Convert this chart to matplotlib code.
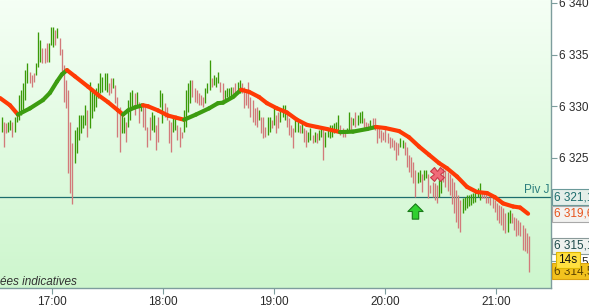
import numpy as np
import matplotlib
matplotlib.use("Agg")
import matplotlib.pyplot as plt
from matplotlib.collections import LineCollection
from matplotlib.colors import LinearSegmentedColormap
from matplotlib.path import Path
from matplotlib.transforms import blended_transform_factory

plt.rcParams['font.family'] = ['Liberation Sans', 'DejaVu Sans']

# x axis is minutes after 16:00
first_bar = 32.82
bar_step = 1.1586

highs = [
    6329.0, 6328.5, 6328.4, 6328.5, 6328.7, 6328.5, 6329.0, 6329.4, 6331.1, 6331.6,
    6332.3, 6333.5, 6334.2, 6333.3, 6333.0, 6333.2, 6334.2, 6337.2, 6336.4, 6335.6,
    6335.6, 6336.1, 6336.1, 6337.7, 6337.7, 6337.4, 6337.6, 6336.6, 6335.5, 6334.0,
    6332.5, 6331.6, 6328.5, 6326.4, 6327.7, 6328.0, 6329.2, 6329.2, 6329.2, 6330.1,
    6329.6, 6332.4, 6331.8, 6331.6, 6331.8, 6332.3, 6333.2, 6332.8, 6333.2, 6333.2,
    6332.3, 6332.7, 6332.7, 6332.1, 6330.9, 6329.9, 6329.4, 6329.0, 6328.5, 6330.6,
    6331.4, 6331.6, 6331.3, 6331.4, 6330.4, 6330.3, 6330.1, 6329.9, 6328.0, 6329.0,
    6329.4, 6329.2, 6328.2, 6329.0, 6331.6, 6331.3, 6330.3, 6329.9, 6328.7, 6328.5,
    6329.2, 6329.0, 6328.2, 6328.0, 6327.5, 6329.6, 6331.6, 6332.3, 6332.5, 6332.5,
    6331.8, 6331.6, 6331.3, 6331.1, 6330.9, 6331.8, 6332.3, 6334.5, 6332.7, 6333.0,
    6332.8, 6333.3, 6332.4, 6332.3, 6331.6, 6331.8, 6331.8, 6331.9, 6331.9, 6332.3,
    6332.4, 6332.5, 6332.3, 6331.9, 6331.6, 6332.4, 6330.9, 6330.6, 6329.8, 6329.9,
    6329.6, 6329.0, 6329.0, 6328.0, 6329.0, 6329.0, 6328.7, 6329.9, 6329.2, 6329.4,
    6329.6, 6330.1, 6330.1, 6329.5, 6328.9, 6328.2, 6327.9, 6329.0, 6328.7, 6328.2,
    6328.4, 6327.9, 6327.7, 6327.5, 6327.9, 6327.2, 6327.5, 6327.4, 6327.7, 6328.0,
    6327.9, 6327.5, 6327.9, 6328.2, 6328.2, 6328.4, 6328.5, 6329.2, 6328.2, 6327.9,
    6327.7, 6327.9, 6329.4, 6329.0, 6328.9, 6329.4, 6329.2, 6329.4, 6329.5, 6328.9,
    6328.5, 6328.4, 6328.7, 6328.9, 6328.9, 6328.2, 6328.0, 6327.7, 6327.5, 6327.9,
    6327.4, 6327.0, 6326.9, 6326.7, 6326.5, 6326.4, 6326.9, 6326.7, 6326.5, 6326.1,
    6325.3, 6325.1, 6324.6, 6323.8, 6323.6, 6323.8, 6323.4, 6323.8, 6323.8, 6323.4,
    6322.4, 6322.7, 6322.6, 6322.4, 6322.9, 6323.1, 6324.0, 6323.8, 6323.6, 6323.4,
    6323.1, 6322.7, 6321.9, 6321.4, 6320.9, 6321.1, 6321.2, 6321.4, 6321.4, 6321.5,
    6321.6, 6321.9, 6322.1, 6322.6, 6321.7, 6321.7, 6321.6, 6321.2, 6321.2, 6321.2,
    6320.9, 6320.6, 6320.4, 6320.3, 6320.2, 6319.7, 6319.8, 6320.0, 6319.7, 6319.3,
    6319.2, 6319.0, 6318.8, 6318.5, 6318.2, 6317.7, 6317.4,
]
lows = [
    6327.5, 6326.1, 6327.4, 6327.5, 6327.7, 6327.0, 6327.5, 6328.5, 6328.7, 6329.2,
    6329.6, 6330.6, 6332.3, 6332.3, 6331.9, 6332.4, 6333.0, 6333.8, 6334.3, 6334.2,
    6334.2, 6334.3, 6334.3, 6335.9, 6335.7, 6335.9, 6336.6, 6335.0, 6333.3, 6330.4,
    6329.8, 6323.5, 6321.6, 6320.5, 6324.5, 6325.5, 6326.7, 6327.4, 6327.9, 6328.2,
    6327.0, 6327.9, 6328.9, 6329.5, 6329.9, 6330.8, 6331.3, 6331.4, 6331.6, 6331.4,
    6331.1, 6331.3, 6331.8, 6330.3, 6327.0, 6325.6, 6327.4, 6327.4, 6326.5, 6328.0,
    6328.7, 6329.8, 6329.2, 6329.9, 6328.4, 6329.5, 6328.0, 6327.7, 6326.1, 6326.7,
    6327.7, 6327.5, 6325.8, 6326.5, 6329.9, 6328.4, 6329.0, 6328.7, 6326.4, 6325.6,
    6327.5, 6327.7, 6326.7, 6326.1, 6326.9, 6327.5, 6328.0, 6329.4, 6330.3, 6330.9,
    6330.4, 6330.3, 6330.1, 6330.1, 6329.9, 6330.3, 6331.3, 6331.6, 6331.9, 6332.1,
    6331.9, 6332.3, 6331.4, 6330.3, 6330.4, 6330.9, 6330.9, 6330.9, 6330.8, 6330.9,
    6331.4, 6331.3, 6331.3, 6329.8, 6330.1, 6329.8, 6329.0, 6328.5, 6328.2, 6328.0,
    6328.7, 6327.4, 6326.9, 6327.0, 6327.2, 6327.5, 6327.9, 6328.2, 6327.4, 6327.9,
    6328.5, 6329.0, 6328.7, 6328.0, 6327.2, 6327.0, 6326.0, 6327.5, 6327.5, 6327.4,
    6327.4, 6326.5, 6326.1, 6326.5, 6326.7, 6326.4, 6326.5, 6326.4, 6326.7, 6327.0,
    6324.8, 6326.1, 6327.0, 6326.9, 6327.0, 6327.4, 6327.5, 6327.7, 6327.2, 6327.0,
    6327.0, 6327.4, 6327.5, 6327.5, 6328.2, 6328.0, 6328.2, 6328.4, 6328.4, 6327.9,
    6327.9, 6327.7, 6328.0, 6328.0, 6327.7, 6326.4, 6326.9, 6326.5, 6326.7, 6326.5,
    6326.4, 6326.0, 6326.1, 6325.8, 6324.8, 6325.3, 6326.1, 6326.0, 6325.3, 6324.1,
    6323.6, 6323.2, 6322.6, 6321.2, 6322.6, 6322.7, 6321.7, 6322.9, 6323.1, 6321.1,
    6321.6, 6321.2, 6320.9, 6320.6, 6321.2, 6321.6, 6322.7, 6322.2, 6321.8, 6321.4,
    6320.5, 6319.7, 6318.8, 6318.2, 6317.8, 6319.7, 6320.0, 6320.2, 6320.3, 6320.4,
    6320.6, 6320.7, 6321.2, 6320.9, 6321.1, 6321.1, 6320.6, 6320.6, 6320.4, 6320.2,
    6319.8, 6319.0, 6318.7, 6318.5, 6318.0, 6317.7, 6317.8, 6318.7, 6318.7, 6318.0,
    6317.4, 6317.5, 6317.4, 6316.1, 6316.0, 6315.8, 6314.0,
]
# g = up bar, r = down bar
bar_dirs = (
    "grrggrgggg" "gggrrrgggr" "rrgggrgrrr" "rrrrgggggg" "rggggggggg"
    "rrgrrrggrg" "ggrgrgrrrr" "ggrrggrrrr" "ggrrrggggr" "rrrrrgggrg"
    "ggrrggggrr" "ggrrrrrrrr" "grrrggrgrr" "gggrrrrggr" "grrggrgrgg"
    "rgggggggrr" "rggrgrgggr" "rrgrrrrrrr" "rrrrrrggrr" "rrrrggrggr"
    "rrrrggrrrr" "rrrrrggggg" "ggggrrrrrr" "rrrrrrggrr" "rrrrrrr"
)

# moving average
ma_time = [31.9, 37.3, 41.6, 48.1, 55.1, 58.9, 62.7, 65.4, 68.1, 72.4,
           79.5, 84.9, 90.3, 95.7, 98.4, 101.1, 104.9, 109.2, 111.9, 117.3,
           122.7, 127.0, 131.4, 137.8, 144.9, 149.7, 152.4, 157.8, 162.2, 166.5,
           171.9, 176.2, 181.6, 187.0, 192.4, 197.8, 203.2, 208.6, 215.7, 222.7,
           230.3, 235.1, 240.0, 247.6, 253.0, 258.4, 263.8, 269.2, 273.5, 278.9,
           284.3, 289.7, 295.1, 299.4, 303.8, 309.2, 313.0, 317.3]
ma_value = [6330.8, 6330.1, 6329.2, 6329.8, 6330.6, 6331.3, 6332.4, 6333.1, 6333.5, 6332.9,
            6331.9, 6331.1, 6330.4, 6329.6, 6329.2, 6329.6, 6329.9, 6330.1, 6330.0, 6329.6,
            6329.1, 6328.9, 6328.7, 6329.2, 6329.8, 6330.3, 6330.35, 6330.9, 6331.6, 6331.4,
            6330.9, 6330.3, 6329.8, 6329.4, 6328.7, 6328.2, 6328.0, 6327.8, 6327.5, 6327.55,
            6327.8, 6328.0, 6327.9, 6327.6, 6327.0, 6326.1, 6325.3, 6324.5, 6324.0, 6323.2,
            6322.2, 6321.7, 6321.6, 6321.2, 6320.6, 6320.3, 6320.2, 6319.6]

pivot = 6321.2
hour_ticks = [60, 120, 180, 240, 300]
hour_labels = ['17:00', '18:00', '19:00', '20:00', '21:00']
buy_bar, buy_price = 193, 6319.9
cross_bar, cross_price = 203, 6323.4

GREEN = '#3a9a08'
PINK = '#d27a7a'
MA_UP = '#3c9c10'
MA_DOWN = '#ff3a05'
TEAL = '#1d6d6d'
AXIS = '#7d9d9d'

highs = np.array(highs)
lows = np.array(lows)
bar_t = first_bar + bar_step * np.arange(len(highs))
up = np.array([d == 'g' for d in bar_dirs])

fig = plt.figure(figsize=(5.89, 3.06), dpi=100)
fig.patch.set_facecolor('white')
ax = fig.add_axes([0, 1 - 288 / 306, 551 / 589, 288 / 306])

# light green gradient background
grad = np.linspace(0, 1, 256).reshape(-1, 1)
bg = LinearSegmentedColormap.from_list('bg', ['#f5fff5', '#cdf6cd'])
ax.imshow(grad, extent=[0, 1, 0, 1], transform=ax.transAxes, cmap=bg,
          aspect='auto', zorder=0, interpolation='bilinear')

ax.axhline(pivot, color=TEAL, lw=0.9, zorder=1)
ax.text(0.998, pivot + 0.15, 'Piv J', transform=blended_transform_factory(ax.transAxes, ax.transData),
        ha='right', va='bottom', color='#2a7d7d', fontsize=8.5)

ax.vlines(bar_t[~up], lows[~up], highs[~up], colors=PINK, lw=0.95, zorder=2)
ax.vlines(bar_t[up], lows[up], highs[up], colors=GREEN, lw=0.95, zorder=2)

# moving average, green while rising, red while falling
pts = np.column_stack([ma_time, ma_value])
segs = np.stack([pts[:-1], pts[1:]], axis=1)
cols = [MA_UP if b > a else MA_DOWN for a, b in zip(ma_value[:-1], ma_value[1:])]
ax.add_collection(LineCollection(segs, colors=cols, linewidths=3.0, capstyle='round',
                                 joinstyle='round', zorder=3))

# signal markers
arrow = Path([(0, 1), (1, 0), (0.42, 0), (0.42, -1), (-0.42, -1), (-0.42, 0), (-1, 0), (0, 1)],
             [Path.MOVETO] + [Path.LINETO] * 6 + [Path.CLOSEPOLY])
ax.plot(bar_t[buy_bar], buy_price, marker=arrow, ms=11, mfc='#2fd02f', mec='#187a18',
        mew=0.8, zorder=4)
ax.plot(bar_t[cross_bar], cross_price, marker='X', ms=10, mfc='#f06a78', mec='#c83848',
        mew=0.8, zorder=4)

ax.set_xlim(31.9, 329.7)
ax.set_ylim(6312.41, 6340.29)

ax.set_xticks(hour_ticks)
ax.set_xticklabels(hour_labels)
ax.yaxis.tick_right()
ax.set_yticks(range(6315, 6341, 5))
ax.yaxis.set_major_formatter(lambda v, p: f"{int(v):,}".replace(',', ' '))
for s in ['left', 'top']:
    ax.spines[s].set_visible(False)
for s in ['right', 'bottom']:
    ax.spines[s].set_color(AXIS)
    ax.spines[s].set_linewidth(1.0)
ax.tick_params(axis='both', direction='out', length=4, width=0.8, color=AXIS,
               labelsize=8.5, labelcolor='#2a2a2a', pad=2)

ax.text(0.14, 0.022, 'Données indicatives', transform=ax.transAxes, ha='right',
        va='center', fontsize=8.5, style='italic', color='#333333')

# value boxes on the price scale
side = blended_transform_factory(ax.transAxes, ax.transAxes)
def tag(y, s, fc, ec, tc, x=1.006):
    ax.text(x, y, s, transform=side, ha='left', va='center', fontsize=8.5, color=tc,
            clip_on=False, zorder=6,
            bbox=dict(boxstyle='square,pad=0.2', fc=fc, ec=ec, lw=0.8))

tag((288 - 197) / 288, '6 321,1', '#e4eee9', '#6a9a9a', TEAL)
tag((288 - 214) / 288, '6 319,6', '#f2f2f0', '#a8a8a8', '#e8541c')
tag((288 - 246) / 288, '6 315,1', '#eef2ef', '#8a9a9a', '#1e4a4a')
tag((288 - 271) / 288, '6 314,5', '#f2c21e', '#d8a010', '#5a4200')
tag((288 - 260) / 288, '14s', '#ffe040', '#e0b800', '#111111', x=1.013)

fig.savefig('out.png', dpi=100)
